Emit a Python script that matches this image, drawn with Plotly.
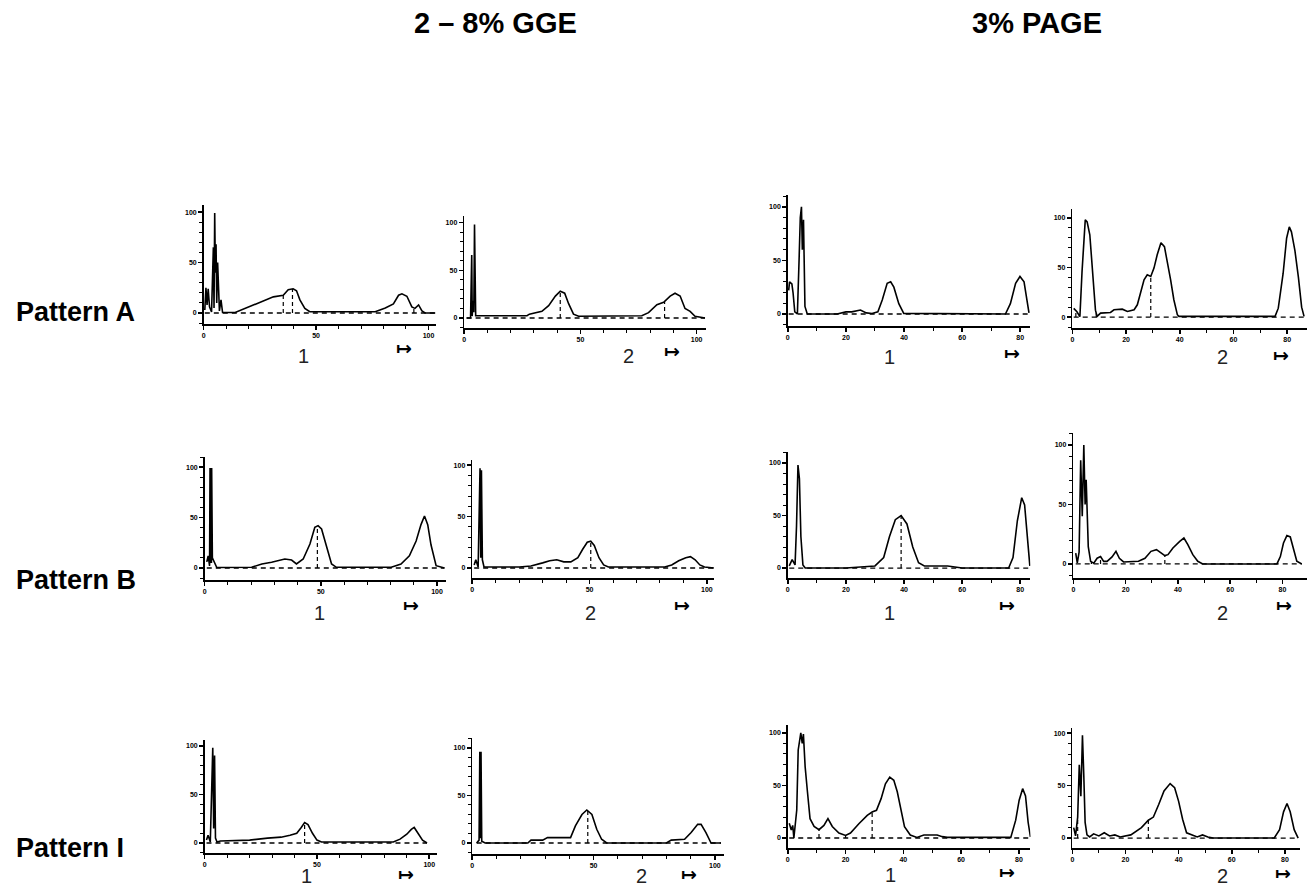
import numpy as np
import plotly.graph_objects as go

# ---------------- data ----------------
TITLES = ["2 – 8% GGE", "3% PAGE"]
ROW_LABELS = ["Pattern A", "Pattern B", "Pattern I"]
GGE_TICKS = [0, 50, 100]
PAGE_TICKS = [0, 20, 40, 60, 80]
Y_TICKS = [0, 50, 100]

A1_x = [0.5, 1.0, 1.5, 2.0, 2.6, 3.5, 4.3, 4.6, 4.9, 5.2, 5.5, 5.8, 6.2, 7.0, 7.7, 8.4, 14, 18.7, 26.1, 31, 35.4, 37.6, 39.8, 41.3, 42.8, 45, 47.2, 76.3, 80.8, 84.4, 86.7, 88.2, 90.4, 92.6, 94, 95.6, 97.1, 98.5, 103]
A1_y = [3, 25, 8, 24, 6, 1, 65, 5, 99, 40, 68, 10, 50, 2, 13, 0.5, 0.5, 4.6, 11.2, 16, 17.6, 23, 24, 22, 13, 4.6, 1.3, 1.3, 5, 9, 17.6, 19, 16.6, 6, 4.6, 8, 2, 0, 0]
A1_drops = [35.4, 39.5, 93.5]

A2_x = [1.0, 2.7, 3.2, 3.4, 3.7, 4.1, 4.4, 4.7, 4.9, 27, 28, 33.4, 36.3, 39.2, 41.3, 43.2, 44.9, 47, 49.2, 76.4, 79.3, 82.9, 85.8, 88.6, 90.7, 92.9, 95, 97.2, 99.3, 103.6]
A2_y = [0, 0, 66, 2, 18, 6, 98, 10, 2.4, 2.4, 4, 7, 13, 23, 28, 26, 15, 4, 1.8, 2.4, 5.6, 14, 16.5, 23, 26, 23, 10, 7, 1.8, 0]
A2_drops = [41.3, 86.2]

A3_x = [0.3, 0.6, 1.4, 1.8, 2.4, 3.3, 3.9, 4.3, 4.7, 5.0, 5.4, 5.9, 6.7, 17, 20, 22, 25, 27, 29, 31, 32.5, 34.2, 35.4, 36.5, 38.2, 39.9, 74.9, 76.6, 78.4, 79.9, 81.3, 82.2, 83]
A3_y = [22, 30, 28, 20, 2, 0, 52, 90, 100, 60, 88, 7, 0, 0, 2, 2, 3.7, 1, 0.5, 2, 13, 28.7, 30, 25, 9.6, 0.6, 0, 9.6, 28.7, 35, 30, 14, 1]
A3_drops = [3.3]

A4_x = [0.5, 1.7, 2.8, 3.6, 4.8, 5.5, 6.5, 7.4, 8.6, 9.2, 10.5, 14.2, 15.5, 18.6, 20.5, 23, 24.2, 26.7, 27.9, 29.2, 30.4, 31.6, 33.0, 34.3, 35.3, 36.6, 37.8, 39.1, 39.7, 75.5, 76.7, 78.5, 79.8, 80.8, 81.6, 82.9, 84.2, 85.4, 86.3]
A4_y = [8.8, 5.4, 0.4, 45.8, 98, 96, 83, 47, 7, 0.7, 4, 4.7, 7.4, 8, 5.7, 7.4, 12.4, 37.6, 42.6, 41, 49.4, 62.9, 75, 71, 57.6, 37.6, 17.5, 2.4, 0.7, 0.7, 9, 44, 79.5, 91, 86, 67, 40, 10, 0.7]
A4_drops = [1.3, 8.9, 29.2]

B1_x = [0.9, 1.5, 2.1, 2.3, 2.5, 2.7, 2.9, 3.0, 3.3, 4.2, 5.2, 20.2, 24.6, 28.8, 34.5, 37.4, 39.5, 42.4, 45.3, 47.4, 48.8, 50.3, 52.4, 54.6, 56.7, 80.3, 84.5, 88.1, 91, 93.1, 94.6, 96, 97.4, 99.6, 103.2]
B1_y = [6, 12, 2, 99, 5, 99, 5, 99, 10, 6, 0.5, 0.7, 4, 5.6, 8.9, 7.9, 4, 8.9, 23.8, 40.3, 42, 38.6, 20.5, 4, 0.7, 0.7, 4, 12, 26.7, 43, 51.5, 43, 23, 2.3, 0]
B1_drops = [48.5]

B2_x = [0.8, 1.5, 2.5, 3.0, 3.3, 3.6, 3.9, 4.3, 5.0, 20, 25, 30, 33, 36, 39, 42, 45, 47, 49, 50.5, 52, 54, 56, 58, 82, 85, 88, 91, 93, 95, 97, 99, 103]
B2_y = [3, 8, 1, 60, 97, 10, 95, 8, 1, 1, 2, 5, 7, 8, 6, 6, 10, 18, 25, 26, 22, 10, 3, 1, 1, 3, 7, 10, 11, 8, 3, 1, 0]
B2_drops = [50.5]

B3_x = [0.5, 1.5, 2.5, 3.0, 3.5, 4.0, 4.5, 5.2, 6, 20, 25, 30, 33, 35, 37, 39, 41, 43, 45, 47, 55, 60, 76, 77.5, 79, 80.5, 81.5, 82.5, 83.3]
B3_y = [2, 8, 3, 40, 98, 85, 30, 3, 0, 0, 1, 2, 10, 30, 46, 50, 42, 20, 5, 2, 2, 0, 0, 10, 45, 67, 60, 25, 2]
B3_drops = [39]

B4_x = [0.9, 1.5, 2.2, 2.8, 3.4, 4.0, 4.5, 4.9, 5.7, 6.6, 7.8, 9.1, 10.4, 11.6, 12.9, 14.8, 16.3, 17.6, 19.2, 24.9, 27.4, 29.7, 31.8, 33.7, 35, 36.2, 38.1, 40.7, 42.3, 43.8, 45.7, 47.6, 49.5, 77.9, 79.2, 80.4, 81.7, 83, 84.2, 85.5, 87.4]
B4_y = [9, 1, 10, 87, 40, 100, 50, 70.6, 14.6, 2.2, 0.6, 4.8, 6.2, 2.2, 2.2, 5.9, 10.6, 4.8, 1.7, 2.2, 4.8, 10.6, 12, 8.7, 7, 7.8, 13.4, 19, 21.8, 16.2, 7.8, 2.2, 0, 0, 6.2, 17.6, 23.8, 22.7, 13.4, 2.2, 0]
B4_drops = [6.9, 10.4, 35]

C1_x = [0.8, 1.5, 2.5, 3.2, 3.6, 4.0, 4.4, 4.8, 5.5, 7, 20, 28, 34, 38, 41, 43, 44.5, 46, 48, 50, 52, 84, 87, 90, 92, 93.3, 95, 97, 99]
C1_y = [3, 8, 1, 60, 98, 15, 90, 5, 1, 2, 3, 5, 6, 8, 10, 16, 21, 19, 10, 3, 1, 1, 4, 9, 14, 16, 10, 3, 0]
C1_drops = [44.5]

C2_x = [1.8, 2.8, 3.1, 3.35, 3.6, 3.9, 5.3, 22.9, 24.2, 29, 31, 40.5, 42.5, 45.2, 47.2, 49.3, 51.3, 53.3, 55.4, 80, 82, 87.5, 90.2, 92.9, 94.3, 96.3, 98.4, 102.5]
C2_y = [0, 3, 96, 5, 96, 1.8, 0, 0, 3, 3, 5.6, 5.6, 17.9, 30, 34.7, 30, 14.4, 3.9, 0, 0, 3, 3.9, 11, 19.6, 19.6, 11, 0, 0]
C2_drops = [47.6]

C3_x = [0.5, 1.2, 1.7, 2.1, 3.1, 3.6, 4.5, 5.0, 5.4, 6.0, 6.8, 7.7, 9.1, 10.8, 12.5, 13.9, 15.4, 17.7, 20, 21.7, 24.6, 27.5, 29.2, 30.7, 32.3, 33.8, 35.3, 36.7, 37.9, 39, 40.4, 42.4, 44.7, 47.1, 51.7, 53.5, 55.2, 77.2, 78.9, 80.1, 81.3, 82.3, 83.2, 84]
C3_y = [14, 7.6, 12, 0, 26.7, 83.8, 100, 90, 99, 68, 44, 18.4, 11, 7.9, 12, 18.4, 11, 4.8, 2.5, 4.8, 13.6, 21.6, 24.8, 26.4, 37.5, 51.7, 58, 55, 44, 28, 10.8, 2.9, 0.6, 2.9, 2.9, 1.3, 0.6, 0.6, 17, 36, 47, 40, 15, 1]
C3_drops = [10.8, 20, 29.2]

C4_x = [0.5, 1.2, 2.0, 2.6, 3.2, 3.8, 4.3, 4.8, 5.5, 6.5, 8, 10, 12, 14, 16, 18, 22, 26, 28.6, 30.5, 32.5, 34.5, 36.8, 38.5, 40, 41.5, 43, 47, 49, 51, 53, 76, 78, 79.5, 80.8, 82, 83.5, 85]
C4_y = [10, 2, 20, 70, 40, 98, 60, 15, 3, 1, 4, 2, 5, 2, 3, 1, 3, 10, 17, 20, 32, 45, 52, 48, 35, 18, 5, 1, 3, 1, 0, 0, 8, 25, 33, 25, 8, 0]
C4_drops = [2.0, 28.6]

# ---------------- geometry (pixels in the 1313x888 page) ----------------
W, H = 1313, 888
PANELS = [
    dict(x=A1_x, y=A1_y, d=A1_drops, box=(202, 435, 205, 324), xr=(0, 103.5), yr=(-10.9, 107), kind="gge", num="1", num_xy=(302, 356), arr_xy=(403, 348)),
    dict(x=A2_x, y=A2_y, d=A2_drops, box=(463, 705, 216, 328), xr=(0, 104), yr=(-10.5, 107), kind="gge", num="2", num_xy=(627, 356), arr_xy=(671, 351)),
    dict(x=A3_x, y=A3_y, d=A3_drops, box=(787, 1030, 195, 326), xr=(0, 83.5), yr=(-11.2, 111), kind="page", num="1", num_xy=(889, 357), arr_xy=(1012, 353)),
    dict(x=A4_x, y=A4_y, d=A4_drops, box=(1072, 1307, 209, 328), xr=(0, 87.4), yr=(-11, 109), kind="page", num="2", num_xy=(1222, 357), arr_xy=(1281, 355)),
    dict(x=B1_x, y=B1_y, d=B1_drops, box=(203, 445, 457, 580), xr=(0, 104), yr=(-11.9, 110), kind="gge", num="1", num_xy=(318, 613), arr_xy=(410, 605)),
    dict(x=B2_x, y=B2_y, d=B2_drops, box=(471, 713, 460, 578), xr=(0, 103), yr=(-9.7, 105), kind="gge", num="2", num_xy=(589, 613), arr_xy=(681, 605)),
    dict(x=B3_x, y=B3_y, d=B3_drops, box=(787, 1030, 452, 578), xr=(0, 83.5), yr=(-9.5, 110.5), kind="page", num="1", num_xy=(889, 613), arr_xy=(1007, 605)),
    dict(x=B4_x, y=B4_y, d=B4_drops, box=(1073, 1307, 433, 578), xr=(0, 89.4), yr=(-11.8, 110), kind="page", num="2", num_xy=(1222, 613), arr_xy=(1284, 605)),
    dict(x=C1_x, y=C1_y, d=C1_drops, box=(203, 436, 740, 853), xr=(0, 103.6), yr=(-10.3, 106), kind="gge", num="1", num_xy=(305, 876), arr_xy=(405, 874)),
    dict(x=C2_x, y=C2_y, d=C2_drops, box=(471, 723, 738, 854), xr=(0, 103.7), yr=(-11.6, 110.5), kind="gge", num="2", num_xy=(640, 876), arr_xy=(688, 874)),
    dict(x=C3_x, y=C3_y, d=C3_drops, box=(787, 1030, 725, 848), xr=(0, 84), yr=(-9.5, 107.6), kind="page", num="1", num_xy=(890, 875), arr_xy=(1007, 872)),
    dict(x=C4_x, y=C4_y, d=C4_drops, box=(1072, 1300, 728, 848), xr=(0, 85.7), yr=(-9.5, 105), kind="page", num="2", num_xy=(1222, 876), arr_xy=(1283, 873)),
]

fig = go.Figure()
layout = dict(
    width=W, height=H, margin=dict(l=0, r=0, t=0, b=0),
    paper_bgcolor="white", plot_bgcolor="white", showlegend=False,
)
annotations = []

tickfont = dict(family="Liberation Sans", size=7, color="black", weight="bold")
for i, p in enumerate(PANELS, start=1):
    sfx = "" if i == 1 else str(i)
    xa, ya = "x" + sfx, "y" + sfx
    l, r, t, b = p["box"]
    xs, ys = p["x"], p["y"]
    fig.add_trace(go.Scatter(x=xs, y=ys, mode="lines", xaxis=xa, yaxis=ya,
                             line=dict(color="black", width=1.6), hoverinfo="skip"))
    fig.add_trace(go.Scatter(x=[xs[0], xs[-1]], y=[0, 0], mode="lines", xaxis=xa, yaxis=ya,
                             line=dict(color="black", width=1.3, dash="5px,4px"), hoverinfo="skip"))
    dx, dy = [], []
    for d in p["d"]:
        dx += [d, d, None]
        dy += [0, float(np.interp(d, xs, ys)), None]
    if dx:
        fig.add_trace(go.Scatter(x=dx, y=dy, mode="lines", xaxis=xa, yaxis=ya,
                                 line=dict(color="black", width=1.2, dash="4px,3px"), hoverinfo="skip"))
    xt = GGE_TICKS if p["kind"] == "gge" else PAGE_TICKS
    layout["xaxis" + sfx] = dict(
        domain=[l / W, r / W], range=list(p["xr"]), anchor=ya,
        showline=True, linecolor="black", linewidth=1.6, mirror=False,
        ticks="outside", ticklen=4, tickwidth=1.6, tickcolor="black",
        tickmode="array", tickvals=xt, ticktext=[str(v) for v in xt], tickfont=tickfont,
        minor=dict(ticks="outside", ticklen=3, tickwidth=1, tickcolor="black",
                   dtick=10, tick0=0, showgrid=False),
        showgrid=False, zeroline=False, fixedrange=True,
    )
    layout["yaxis" + sfx] = dict(
        domain=[1 - b / H, 1 - t / H], range=list(p["yr"]), anchor=xa,
        showline=True, linecolor="black", linewidth=1.6,
        ticks="outside", ticklen=4, tickwidth=1.6, tickcolor="black",
        tickmode="array", tickvals=Y_TICKS, ticktext=[str(v) for v in Y_TICKS], tickfont=tickfont,
        minor=dict(ticks="outside", ticklen=3, tickwidth=1, tickcolor="black", dtick=10, tick0=0, showgrid=False),
        showgrid=False, zeroline=False, fixedrange=True,
    )
    nx, ny = p["num_xy"]
    annotations.append(dict(text=p["num"], x=nx / W, y=1 - ny / H, xref="paper", yref="paper",
                            showarrow=False, xanchor="center", yanchor="middle",
                            font=dict(family="Liberation Sans", size=20, color="#222")))
    ax_, ay_ = p["arr_xy"]
    annotations.append(dict(text="↦", x=ax_ / W, y=1 - ay_ / H, xref="paper", yref="paper",
                            showarrow=False, xanchor="center", yanchor="middle",
                            font=dict(family="DejaVu Sans", size=19, color="black", weight="bold")))

for txt, cx in zip(TITLES, [494, 1037]):
    annotations.append(dict(text=txt, x=cx / W, y=1 - 23 / H, xref="paper", yref="paper",
                            showarrow=False, xanchor="center", yanchor="middle",
                            font=dict(family="Liberation Sans", size=29, color="black", weight="bold")))
for txt, cy in zip(ROW_LABELS, [312, 580, 848]):
    annotations.append(dict(text=txt, x=12 / W, y=1 - cy / H, xref="paper", yref="paper",
                            showarrow=False, xanchor="left", yanchor="middle",
                            font=dict(family="Liberation Sans", size=27, color="black", weight="bold")))

layout["annotations"] = annotations
fig.update_layout(**layout)
fig.write_html("out.html", config={"displayModeBar": False, "staticPlot": True},
               post_script="document.body.style.margin='0px';document.body.style.overflow='hidden';")
